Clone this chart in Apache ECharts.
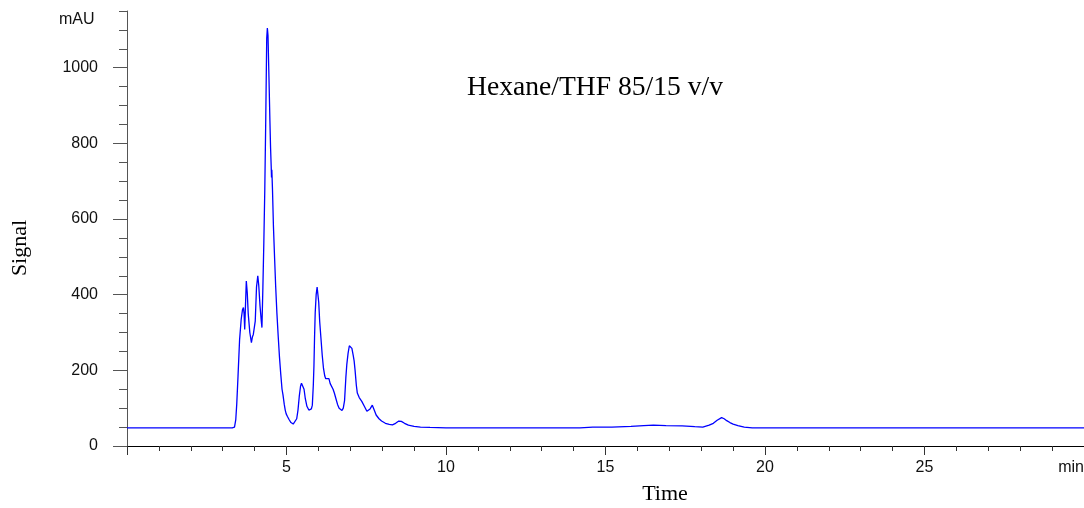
<!DOCTYPE html>
<html>
<head>
<meta charset="utf-8">
<script src="https://cdn.jsdelivr.net/npm/echarts@6/dist/echarts.min.js"></script>
<style>
html,body{margin:0;padding:0;background:#fff}
#main{width:1084px;height:508px}
</style>
</head>
<body>
<div id="main"></div>
<script>
var myChart=echarts.init(document.getElementById('main'))

// retention time (min)
var times=[0,3.30,3.37,3.41,3.44,3.48,3.53,3.58,3.62,3.65,3.67,3.69,3.71,3.74,3.77,3.80,3.85,3.90,3.93,3.96,3.99,
    4.02,4.06,4.10,4.13,4.17,4.21,4.23,4.26,4.29,4.32,4.35,4.38,4.40,4.42,4.45,4.48,4.50,4.52,4.53,4.54,4.56,4.59,
    4.63,4.66,4.70,4.74,4.78,4.82,4.86,4.89,4.91,4.93,4.96,4.99,5.03,5.08,5.14,5.21,5.27,5.32,5.36,5.40,5.44,5.47,
    5.51,5.55,5.59,5.64,5.70,5.74,5.78,5.81,5.84,5.86,5.88,5.90,5.93,5.96,5.98,6.01,6.04,6.08,6.12,6.16,6.20,6.23,
    6.26,6.29,6.33,6.37,6.42,6.46,6.50,6.55,6.60,6.65,6.70,6.74,6.78,6.82,6.86,6.89,6.93,6.97,7.01,7.05,7.09,7.12,
    7.15,7.19,7.22,7.28,7.36,7.44,7.52,7.57,7.62,7.69,7.75,7.81,7.90,7.98,8.10,8.22,8.32,8.42,8.52,8.60,8.70,8.82,
    9.00,9.20,9.50,10.0,14.2,14.6,15.2,15.8,16.2,16.5,16.9,17.4,17.8,18.05,18.25,18.38,18.50,18.56,18.64,18.72,
    18.80,18.90,19.00,19.15,19.35,19.6,30]
// detector signal (mAU)
var signal=[48,48,50,70,110,184,282,335,360,366,350,308,360,436,405,350,300,273,288,295,290,
    330,420,450,425,370,330,313,420,540,680,866,1078,1105,1085,975,860,790,740,710,730,680,582,
    490,423,350,290,235,190,150,135,140,110,95,85,78,70,62,58,62,72,95,131,158,166,
    163,150,125,105,95,91,98,108,160,211,290,352,400,420,418,380,330,285,240,205,185,178,
    175,180,178,165,160,150,140,125,110,100,95,94,100,120,180,215,245,265,268,258,240,225,
    200,160,140,128,118,105,92,88,98,108,95,82,72,66,60,57,56,60,66,65,60,55,
    52,50,49,48,48,50,50,52,54,55,54,53,51,50,55,60,68,71,75,72,
    67,62,58,54,50,48,48]

var yMajorTicks=[0,200,400,600,800,1000]
var xTickLabels=['','5','10','15','20','25','min']

var option={
    animation:false,
    backgroundColor:'#ffffff',
    grid:{left:127,right:0,top:11,bottom:62,outerBoundsMode:'none',containLabel:false},
    xAxis:{
        type:'value',
        min:0,
        max:30,
        interval:5,
        offset:2,
        axisLine:{lineStyle:{color:'#000',width:1}},
        axisTick:{length:9,lineStyle:{color:'#333'}},
        minorTick:{show:true,splitNumber:5,length:5,lineStyle:{color:'#333'}},
        axisLabel:{
            fontSize:16,
            color:'#111',
            fontFamily:'Liberation Sans, Arial, sans-serif',
            margin:12,
            alignMaxLabel:'right',
            formatter:function(v){return xTickLabels[Math.round(v/5)]}
        },
        splitLine:{show:false}
    },
    yAxis:[
        {
            type:'value',
            position:'left',
            min:0,
            max:1150,
            interval:50,
            axisLine:{show:true,lineStyle:{color:'#555'}},
            axisTick:{length:8,lineStyle:{color:'#555'}},
            axisLabel:{show:false},
            splitLine:{show:false}
        },
        {
            type:'value',
            position:'left',
            offset:0,
            min:0,
            max:1150,
            interval:200,
            axisLine:{show:false},
            axisTick:{show:true,length:14,customValues:yMajorTicks,lineStyle:{color:'#555'}},
            axisLabel:{
                customValues:yMajorTicks,
                fontSize:16,
                color:'#111',
                fontFamily:'Liberation Sans, Arial, sans-serif',
                margin:29,
                formatter:function(v){return String(v)}
            },
            splitLine:{show:false}
        }
    ],
    graphic:[
        {type:'text',left:59,top:12,style:{text:'mAU',fontSize:16,fill:'#111',fontFamily:'Liberation Sans, Arial, sans-serif'}},
        {type:'text',x:20,y:248,rotation:Math.PI/2,style:{text:'Signal',fontSize:22,fill:'#000',fontFamily:'Liberation Serif, Times New Roman, serif',align:'center',verticalAlign:'middle'}},
        {type:'text',x:665,y:494,style:{text:'Time',fontSize:22,fill:'#000',fontFamily:'Liberation Serif, Times New Roman, serif',align:'center',verticalAlign:'middle'}},
        {type:'text',x:467,y:88,style:{text:'Hexane/THF 85/15 v/v',fontSize:27.6,fill:'#000',fontFamily:'Liberation Serif, Times New Roman, serif',align:'left',verticalAlign:'middle'}}
    ],
    series:[
        {
            type:'line',
            xAxisIndex:0,
            yAxisIndex:0,
            showSymbol:false,
            data:times.map(function(t,i){return [t,signal[i]]}),
            lineStyle:{color:'#0000ff',width:1.3},
            itemStyle:{color:'#0000ff'}
        }
    ]
}
myChart.setOption(option)
</script>
</body>
</html>
